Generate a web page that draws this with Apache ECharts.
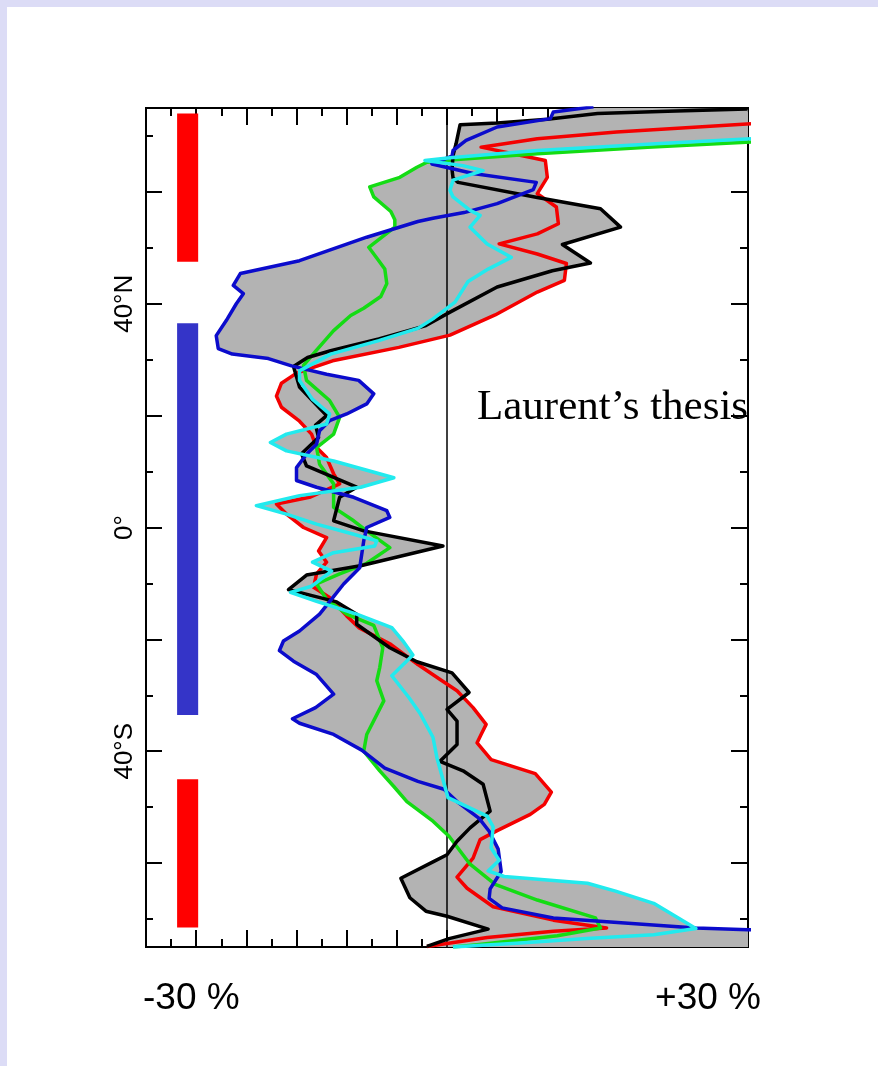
<!DOCTYPE html>
<html>
<head>
<meta charset="utf-8">
<title>Laurent's thesis</title>
<script src="https://cdn.jsdelivr.net/npm/echarts@6/dist/echarts.min.js"></script>
<style>
  html, body { margin: 0; padding: 0; background: #dcdcf6; }
  #chart { position: absolute; left: 7px; top: 7px; width: 871px; height: 1059px; background: #fff; }
</style>
</head>
<body>
<div id="chart"></div>
<script>
// profiles: [percent, latitude]
const blackLine = [[29.9,74.8],[22,74.4],[15,74.0],[10,73.0],[5.0,72.3],[1.3,72.0],[0.9,68.6],[0.6,66.5],[0.5,64.0],[0.6,62.5],[1.1,61.7],[9.0,59.0],[15.3,57.0],[17.3,53.7],[11.5,50.6],[14.3,47.3],[10.5,45.9],[5.0,43.0],[0.3,38.5],[-2.1,36.1],[-6.8,33.7],[-11.6,31.6],[-13.9,30.4],[-15.3,28.8],[-14.7,25.1],[-12.0,20.0],[-13.1,18.3],[-12.8,16.1],[-14.5,13.2],[-14.0,11.0],[-9.0,7.2],[-10.7,5.4],[-11.3,1.2],[-8.3,-0.6],[-0.4,-3.3],[-8.5,-6.8],[-14.0,-8.5],[-15.8,-11.1],[-11.0,-13.3],[-9.0,-15.5],[-9.0,-17.3],[-5.7,-21.5],[-3.0,-24.0],[0.5,-26.0],[2.2,-29.5],[0.0,-32.5],[1.0,-34.6],[1.0,-38.8],[-0.7,-41.8],[1.6,-43.5],[3.6,-45.9],[4.3,-50.7],[2.3,-53.7],[1.0,-56.1],[0.0,-58.5],[-1.3,-59.7],[-4.6,-62.7],[-3.7,-66.2],[-2.1,-68.6],[0.0,-69.5],[4.1,-71.8],[0.2,-73.5],[-2.0,-74.9]];

const redLine = [[30.3,72.2],[16.9,70.7],[9.0,69.5],[3.4,68.0],[7.4,66.5],[9.8,65.6],[10.0,62.6],[9.0,59.7],[10.9,57.3],[11.1,54.3],[9.0,52.5],[5.2,50.7],[9.0,48.9],[11.9,47.2],[11.7,44.2],[9.0,42.1],[4.8,38.0],[0.3,34.4],[-4.8,32.2],[-11.4,29.8],[-15.0,27.6],[-16.5,25.8],[-17.0,23.5],[-16.5,21.5],[-14.7,19.0],[-13.5,16.7],[-13.0,14.3],[-12.0,12.5],[-11.3,9.6],[-10.7,7.8],[-13.7,5.4],[-17.0,4.2],[-16.0,2.4],[-14.3,0.0],[-12.0,-1.8],[-12.8,-4.2],[-12.0,-6.2],[-13.0,-8.3],[-13.3,-10.7],[-11.7,-12.5],[-10.0,-15.8],[-8.8,-17.9],[-5.6,-20.9],[-2.9,-24.5],[-0.5,-27.4],[1.0,-29.2],[2.6,-32.2],[3.9,-35.2],[3.4,-37.0],[3.0,-38.5],[4.4,-41.5],[8.8,-44.0],[10.4,-47.3],[9.7,-49.5],[8.3,-51.3],[5.0,-54.2],[3.3,-55.8],[2.6,-59.1],[1.0,-62.5],[2.0,-64.5],[4.6,-67.8],[10.6,-70.2],[15.9,-71.6],[10.6,-72.2],[4.0,-73.3],[-2.0,-74.9]];

const greenLine = [[30.3,68.9],[20.0,68.0],[9.0,66.8],[1.0,65.8],[-2.0,65.3],[-3.0,64.4],[-4.7,62.6],[-7.7,60.9],[-7.3,59.1],[-5.6,56.5],[-5.2,55.0],[-5.2,53.7],[-7.8,50.1],[-6.8,47.7],[-6.2,46.2],[-6.0,43.6],[-6.6,41.3],[-8.3,39.2],[-9.6,37.9],[-11.3,35.2],[-13.2,31.3],[-14.3,29.0],[-14.0,26.3],[-11.7,22.7],[-10.7,19.7],[-11.3,16.7],[-13.0,14.3],[-12.7,11.3],[-11.3,7.8],[-11.3,3.6],[-9.3,1.2],[-8.0,-0.6],[-5.7,-3.6],[-8.0,-6.4],[-10.7,-8.3],[-13.0,-10.1],[-12.0,-12.8],[-10.0,-15.5],[-7.3,-17.5],[-6.4,-21.5],[-6.7,-25.0],[-7.0,-27.4],[-6.3,-31.0],[-8.0,-37.0],[-8.3,-40.0],[-6.7,-43.5],[-5.3,-46.3],[-4.0,-49.0],[-1.4,-52.5],[0.2,-55.2],[2.3,-60.2],[4.8,-63.8],[9.0,-66.6],[14.8,-69.8],[15.3,-71.6],[11.0,-73.0],[3.0,-74.6],[0.6,-75.0]];

const cyanLine = [[30.3,69.5],[20.8,68.6],[9.0,67.4],[0.3,66.1],[-2.2,65.6],[1.6,64.7],[3.6,63.8],[0.6,62.1],[0.3,60.3],[0.6,59.1],[2.3,56.7],[3.3,55.8],[2.3,53.7],[4.0,50.7],[6.4,48.3],[4.1,46.2],[2.1,44.0],[0.8,40.3],[-1.4,37.3],[-2.9,35.6],[-6.8,33.4],[-11.6,31.0],[-14.7,28.0],[-14.7,26.3],[-13.4,22.9],[-11.7,20.3],[-12.0,18.5],[-16.0,16.7],[-17.6,15.2],[-16.0,13.7],[-11.3,11.9],[-5.3,8.9],[-8.6,7.2],[-14.7,5.7],[-19.0,3.9],[-16.0,2.4],[-13.0,0.6],[-9.3,-1.2],[-7.0,-2.4],[-7.2,-3.3],[-11.3,-4.5],[-13.4,-6.2],[-11.5,-7.8],[-13.5,-10.5],[-15.6,-11.6],[-13.0,-13.2],[-9.0,-15.5],[-5.5,-17.9],[-4.3,-20.5],[-3.4,-22.8],[-5.5,-26.5],[-3.8,-30.4],[-2.7,-33.2],[-1.4,-37.5],[-1.0,-41.2],[0.1,-48.3],[4.0,-51.6],[4.6,-53.5],[4.4,-57.3],[5.2,-59.5],[4.1,-61.4],[5.7,-62.4],[14.0,-63.6],[16.8,-65.0],[20.6,-67.2],[24.8,-71.7],[20.6,-72.8],[13.9,-73.5],[7.3,-74.3],[0.6,-75.0]];

const blueLine = [[14.6,75.2],[10.6,74.3],[10.3,73.1],[5.0,71.6],[1.9,69.2],[0.6,67.4],[0.5,66.4],[-1.5,65.0],[2.6,63.3],[8.9,61.7],[8.6,60.4],[5.0,57.9],[1.7,56.3],[-1.4,55.3],[-2.9,54.7],[-8.0,51.9],[-14.7,47.7],[-20.6,45.4],[-21.3,43.3],[-20.3,41.8],[-21.0,40.0],[-22.0,37.0],[-23.0,34.3],[-22.8,32.0],[-21.4,31.0],[-17.8,30.2],[-15.5,28.9],[-12.0,27.4],[-8.8,26.3],[-7.3,23.9],[-8.0,22.1],[-10.0,20.3],[-11.7,19.1],[-12.7,17.3],[-13.0,14.9],[-14.0,13.1],[-15.0,10.7],[-15.0,8.4],[-13.0,7.2],[-9.3,5.4],[-6.0,3.0],[-5.7,1.8],[-8.0,0.0],[-8.3,-2.4],[-8.7,-7.2],[-10.3,-10.1],[-11.5,-12.8],[-12.7,-15.5],[-14.7,-18.5],[-16.3,-20.3],[-16.7,-22.0],[-15.3,-23.9],[-13.0,-26.3],[-11.3,-29.8],[-13.1,-32.2],[-15.4,-34.2],[-14.7,-35.0],[-11.3,-37.0],[-8.5,-39.8],[-6.2,-43.0],[-2.9,-45.4],[-0.3,-46.8],[1.0,-49.0],[3.2,-52.0],[4.2,-54.3],[5.1,-57.5],[5.4,-61.5],[4.3,-64.6],[4.2,-66.3],[5.5,-68.0],[10.6,-69.8],[17.0,-70.6],[24.8,-71.6],[30.0,-71.9],[31.5,-72.0],[31.5,-75.5]];

const zeroLine = [[0, 75], [0, -75]];

// latitude bands marked on the left
const bandX = [-26.9, -24.8];
const bandLats = [[74.0, 47.5], [36.5, -33.5], [-45.0, -71.5]];

// ticks and labels
const pctMajorTicks = [-25, -20, -15, -10, -5, 0, 5, 10, 15, 20, 25];
const pctMinorTicks = [-27.5, -22.5, -17.5, -12.5, -7.5, -2.5, 2.5, 7.5, 12.5, 17.5, 22.5, 27.5];
const latMajorTicks = [-60, -40, -20, 0, 20, 40, 60];
const latMinorTicks = [-70, -50, -30, -10, 10, 30, 50, 70];
const latLabelValues = [40, 0, -40];
const latLabelText = ['40°N', '0°', '40°S'];

const profiles = [redLine, greenLine, blackLine, blueLine, cyanLine];
const profileColors = ['#f40000', '#14dc14', '#000000', '#0b0bcc', '#22eaee'];
const bandColors = ['#ff0000', '#3434c8', '#ff0000'];

// every pair of profiles, their union of in-between areas = grey envelope
const pairs = [];
for (let i = 0; i < profiles.length; i++) {
  for (let j = i + 1; j < profiles.length; j++) pairs.push([i, j]);
}

const chart = echarts.init(document.getElementById('chart'));

function xAxisOf(pos, ticks, len) {
  return {
    type: 'value', position: pos, min: -30, max: 30,
    axisLine: { show: true, onZero: false, lineStyle: { color: '#000', width: 2 } },
    axisTick: { show: true, inside: true, length: len, customValues: ticks, lineStyle: { color: '#000', width: 2 } },
    axisLabel: { show: false },
    splitLine: { show: false }
  };
}

function yAxisOf(pos, ticks, len, labels) {
  return {
    type: 'value', position: pos, min: -75, max: 75,
    axisLine: { show: true, onZero: false, lineStyle: { color: '#000', width: 2 } },
    axisTick: { show: true, inside: true, length: len, customValues: ticks, lineStyle: { color: '#000', width: 2 } },
    axisLabel: labels ? {
      show: true, customValues: latLabelValues, rotate: 90, margin: 8,
      fontSize: 26, fontFamily: 'Liberation Sans', color: '#000',
      formatter: v => latLabelText[latLabelValues.indexOf(v)]
    } : { show: false },
    splitLine: { show: false }
  };
}

const option = {
  animation: false,
  grid: { left: 139, top: 101, width: 602, height: 839, containLabel: false },
  xAxis: [
    xAxisOf('bottom', pctMajorTicks, 17),
    xAxisOf('bottom', pctMinorTicks, 8),
    xAxisOf('top', pctMajorTicks, 17),
    xAxisOf('top', pctMinorTicks, 8)
  ],
  yAxis: [
    yAxisOf('left', latMajorTicks, 16, true),
    yAxisOf('left', latMinorTicks, 7, false),
    yAxisOf('right', latMajorTicks, 17, false),
    yAxisOf('right', latMinorTicks, 8, false)
  ],
  series: [
    {
      type: 'custom', name: 'bands', z: 1,
      data: bandLats.map(b => [bandX[0], bandX[1], b[0], b[1]]),
      renderItem: (params, api) => {
        const p0 = api.coord([api.value(0), api.value(2)]);
        const p1 = api.coord([api.value(1), api.value(3)]);
        return {
          type: 'rect',
          shape: { x: p0[0], y: p0[1], width: p1[0] - p0[0], height: p1[1] - p0[1] },
          style: { fill: bandColors[params.dataIndex] }
        };
      }
    },
    {
      type: 'custom', name: 'envelope', z: 1, clip: true,
      data: pairs,
      renderItem: (params, api) => {
        const a = profiles[api.value(0)], b = profiles[api.value(1)];
        const pts = a.concat(b.slice().reverse()).map(p => api.coord(p));
        return { type: 'polygon', shape: { points: pts }, style: { fill: '#b3b3b3' } };
      }
    },
    {
      type: 'line', name: 'zero', z: 2, data: zeroLine,
      symbol: 'none', lineStyle: { color: '#000', width: 1.5 }
    }
  ].concat(profiles.map((p, k) => ({
    type: 'line', z: 3, data: p, symbol: 'none', clip: true,
    lineStyle: { color: profileColors[k], width: 3.5, join: 'round' }
  }))),
  graphic: [
    { type: 'text', x: 470, y: 401, style: { text: 'Laurent’s thesis', font: '43px "Liberation Serif"', fill: '#000', verticalAlign: 'middle' } },
    { type: 'text', x: 136, y: 992, style: { text: '-30 %', font: '37px "Liberation Sans"', fill: '#000', verticalAlign: 'middle' } },
    { type: 'text', x: 754, y: 992, style: { text: '+30 %', font: '37px "Liberation Sans"', fill: '#000', align: 'right', verticalAlign: 'middle' } }
  ]
};

chart.setOption(option);
window.addEventListener('resize', () => chart.resize());
</script>
</body>
</html>
